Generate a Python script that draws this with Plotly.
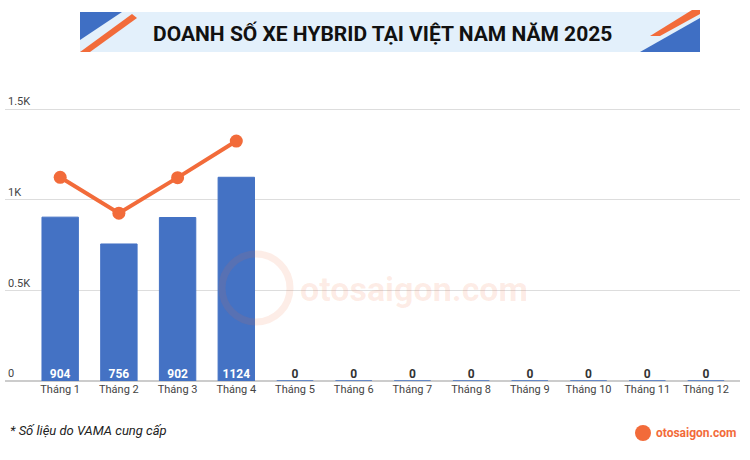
import plotly.graph_objects as go

months = ["Tháng %d" % i for i in range(1, 13)]
sales = [904, 756, 902, 1124, 0, 0, 0, 0, 0, 0, 0, 0]
trend = [1124, 926, 1122, 1324]
tick_vals = [0, 500, 1000, 1500]
tick_text = ["0", "0.5K", "1K", "1.5K"]

W, H = 750, 460
L, R, T, B = 5, 10, 91, 79
def px(x): return (x - L) / (W - L - R)
def py(y): return (H - B - y) / (H - T - B)

xs = list(range(12))
fig = go.Figure()
fig.add_bar(x=xs, y=sales, width=0.62, marker_color="#4472c4",
            marker_line=dict(color="#4472c4", width=1))
fig.add_scatter(x=xs[:4], y=trend, mode="lines+markers",
                line=dict(color="#f26b3a", width=4),
                marker=dict(size=13, color="#f26b3a"))
fig.add_scatter(x=xs, y=[0]*12, mode="text", text=[str(v) for v in sales],
                textposition="top center",
                textfont=dict(family="Roboto", size=12,
                              color=["white" if v else "#333" for v in sales]),
                texttemplate="<b>%{text}</b>")

shapes = [
    dict(type="rect", xref="paper", yref="paper", x0=px(80), x1=px(700), y0=py(52), y1=py(12),
         fillcolor="#e3f0fb", line_width=0, layer="below"),
    dict(type="path", xref="paper", yref="paper",
         path=f"M {px(80)},{py(12)} L {px(122)},{py(12)} L {px(80)},{py(40)} Z",
         fillcolor="#3f6fc4", line_width=0),
    dict(type="path", xref="paper", yref="paper",
         path=f"M {px(80)},{py(52)} L {px(132)},{py(14)} L {px(137)},{py(18)} L {px(90)},{py(52)} Z",
         fillcolor="#f26b3a", line_width=0),
    dict(type="path", xref="paper", yref="paper",
         path=f"M {px(640)},{py(52)} L {px(700)},{py(52)} L {px(700)},{py(18)} Z",
         fillcolor="#3f6fc4", line_width=0),
    dict(type="path", xref="paper", yref="paper",
         path=f"M {px(650)},{py(36)} L {px(692)},{py(10)} L {px(700)},{py(10)} L {px(700)},{py(14)} L {px(660)},{py(36)} Z",
         fillcolor="#f26b3a", line_width=0),
    dict(type="circle", xref="paper", yref="paper", x0=px(222), x1=px(290), y0=py(322), y1=py(254),
         line=dict(color="rgba(242,107,58,0.12)", width=7), fillcolor="rgba(0,0,0,0)"),
    dict(type="circle", xref="paper", yref="paper", x0=px(635), x1=px(651), y0=py(441), y1=py(425),
         fillcolor="#f26b3a", line_width=0),
]
ann = [
    dict(text="<b>DOANH SỐ XE HYBRID TẠI VIỆT NAM NĂM 2025</b>", x=px(382), y=py(33),
         xref="paper", yref="paper", showarrow=False, font=dict(family="Roboto", size=21, color="#111")),
    dict(text="<i>* Số liệu do VAMA cung cấp</i>", x=px(8), y=py(430), xref="paper", yref="paper",
         xanchor="left", showarrow=False, font=dict(family="Roboto", size=13, color="#222")),
    dict(text="<b>otosaigon.com</b>", x=px(654), y=py(433), xref="paper", yref="paper",
         xanchor="left", showarrow=False, font=dict(family="Roboto", size=12, color="#f26b3a")),
    dict(text="<b>otosaigon.com</b>", x=px(298), y=py(289), xref="paper", yref="paper",
         xanchor="left", showarrow=False, font=dict(family="Roboto", size=34, color="rgba(242,107,58,0.13)")),
]
for a in ann:
    a["yanchor"] = "middle"
fig.update_layout(
    width=W, height=H, margin=dict(l=L, r=R, t=T, b=B),
    paper_bgcolor="white", plot_bgcolor="white", showlegend=False,
    shapes=shapes, annotations=ann,
    font=dict(family="Roboto", size=11, color="#444"),
    xaxis=dict(range=[-0.94, 11.58], tickvals=xs, ticktext=months, showgrid=False,
               zeroline=False, tickfont=dict(size=11, color="#444")),
    yaxis=dict(range=[0, 1600], tickvals=tick_vals, ticktext=tick_text,
               ticklabelposition="inside top", gridcolor="#dddddd", zeroline=True,
               zerolinecolor="#cccccc", tickfont=dict(size=11, color="#444")),
)
fig.write_html("out.html", config={"displayModeBar": False},
               post_script="document.body.style.margin='0';document.body.style.overflow='hidden';")
